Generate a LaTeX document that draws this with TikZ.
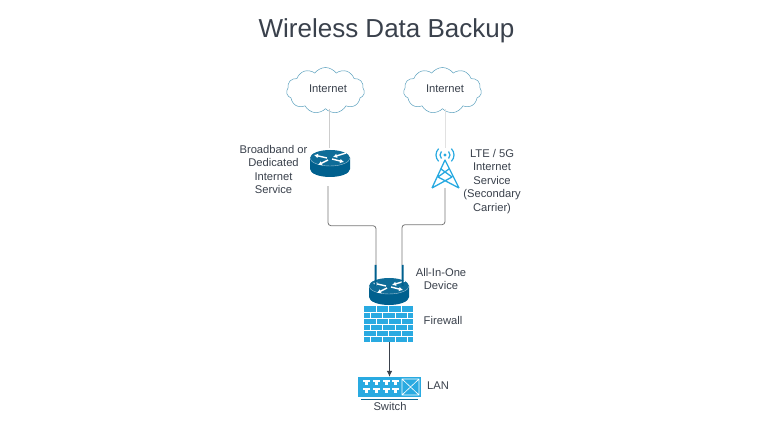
\documentclass[tikz,border=0pt]{standalone}
\usepackage{fontspec}
\setmainfont{Liberation Sans}
\usetikzlibrary{calc,arrows.meta,positioning,shapes.symbols}
\definecolor{lcText}{RGB}{58,65,76}
\definecolor{lcLine}{RGB}{120,120,120}
\definecolor{lcFaint}{RGB}{205,205,205}
\definecolor{lcCloud}{RGB}{90,160,190}
\definecolor{lcDark}{RGB}{0,96,142}
\definecolor{lcMid}{RGB}{14,108,152}
\definecolor{lcBlue}{RGB}{41,170,225}
\tikzset{
  label/.style={text=lcText, align=center, inner sep=0pt, font=\fontsize{11.2}{13.6}\selectfont},
  cloudbox/.style={cloud, cloud puffs=11, cloud puff arc=110, aspect=1.8, draw=lcCloud, line width=0.5pt,
    minimum width=78, minimum height=46, inner sep=0pt},
  iconbox/.style={inner sep=0pt, minimum width=#1},
  feed/.style={lcLine, line width=0.8pt, rounded corners=3},
  faint/.style={lcFaint, line width=0.8pt},
  routericon/.pic={
    \fill[lcDark] (-20,-5) -- (-20,6) arc[start angle=180,end angle=0,x radius=20,y radius=8] -- (20,-5) -- cycle;
    \fill[lcMid] (0,-5) ellipse[x radius=20,y radius=8];
    \draw[white!60!lcMid, line width=0.4pt] (-20,-5) arc[start angle=180,end angle=0,x radius=20,y radius=8];
    \foreach \a/\b/\c/\d in {-3/-5/-16/-8, 16/-10/3/-6, -2/-3/-12/2, 2/-4/14/-1}
      \draw[white, line width=1.4pt, -{Latex[length=4pt,width=4.5pt]}] (\a,\b) -- (\c,\d);
  }
}
\begin{document}
\begin{tikzpicture}[x=1pt,y=-1pt]
\useasboundingbox (0,0) rectangle (784,438);
\fill[white] (0,0) rectangle (784,438);

\node[text=lcText, inner sep=0pt, font=\fontsize{26}{30}\selectfont] (title) at (386.5,31) {Wireless Data Backup};

\node[cloudbox] (cloudA) at (325.5,90.5) {};
\node[cloudbox] (cloudB) at (442.5,90.5) {};
\node[label] (lblCloudA) at (328,89) {Internet};
\node[label] (lblCloudB) at (445,89) {Internet};

\node[iconbox=40, minimum height=37] (broadband) at (329,166.5) {};
\node[iconbox=28, minimum height=40] (tower) at (445,168) {};
\node[iconbox=40, minimum height=40] (allinone) at (389,285) {};
\node[iconbox=49, minimum height=36] (firewall) at (388.5,324) {};
\node[iconbox=63, minimum height=20] (switch) at (389.5,387) {};

\pic at (330,163) {routericon};
\pic at (389,291) {routericon};

% tower
\draw[lcBlue, line width=1.3pt, line join=round] (432,188) -- (445,160) -- (459,188)
  (432,188) -- (452,177) (459,188) -- (438,177)
  (438,177) -- (449,169) (452,177) -- (441,169);
\fill[lcBlue] (445,155) circle (1.6);
\foreach \r in {5,9}{
  \draw[lcBlue, line width=1.2pt] (445,155) ++(135:\r) arc[start angle=135,end angle=225,radius=\r];
  \draw[lcBlue, line width=1.2pt] (445,155) ++(45:\r) arc[start angle=45,end angle=-45,radius=\r];
}

% antennas
\fill[lcDark] (374.5,265) rectangle (376.5,286) (401.5,265) rectangle (403.5,286);

% firewall
\fill[lcBlue] (firewall.south west) rectangle (firewall.north east);
\foreach \y in {312,318,324,330,336}
  \draw[white, line width=0.7pt] (364,\y) -- (413,\y);
\foreach \x in {376,388,401}
  \foreach \y in {306,318,330}
    \draw[white, line width=0.7pt] (\x,\y) -- (\x,\y+6);
\foreach \x in {370,382,395,407}
  \foreach \y in {312,324,336}
    \draw[white, line width=0.7pt] (\x,\y) -- (\x,\y+6);

% switch
\fill[lcBlue] (switch.south west) rectangle (switch.north east);
\foreach \x in {366,376,386,395}
  \foreach \y in {380,388}{
    \fill[white] (\x-3.5,\y) rectangle (\x+3.5,\y+2);
    \fill[white] (\x-1.5,\y+2) rectangle (\x+1.5,\y+4.5);
  }
\draw[white, line width=0.6pt] (402,379) rectangle (419,395) (402,379) -- (419,395) (402,395) -- (419,379);
\draw[lcMid, line width=0.8pt] (361,399) -- (418,399);

% connectors
\coordinate (feedA) at (376,265);
\coordinate (feedB) at (402,265);
\draw[faint] (cloudA.south -| broadband.north) -- (broadband.north);
\draw[faint, lcFaint!60] (cloudB.south -| tower.north) -- (tower.north);
\draw[feed] ($(broadband.south)+(-1,1)$) -- ++(0,39.5) -| (feedA);
\draw[feed] (tower.south) -- ++(0,36.5) -| (feedB);
\draw[lcText, line width=0.8pt, -{Latex[length=6pt,width=5.5pt]}] (switch.north |- firewall.south) -- (switch.north);

\node[label] (lblBroadband) at (273.5,169.5) {Broadband or\\Dedicated\\Internet\\Service};
\node[label] (lblLte) at (492,181.5) {LTE / 5G\\Internet\\Service\\(Secondary\\Carrier)};
\node[label] (lblAllinone) at (441,279) {All-In-One\\Device};
\node[label] (lblFirewall) at (443,320) {Firewall};
\node[label] (lblLan) at (438,386) {LAN};
\node[label] (lblSwitch) at (390,406) {Switch};
\end{tikzpicture}
\end{document}
